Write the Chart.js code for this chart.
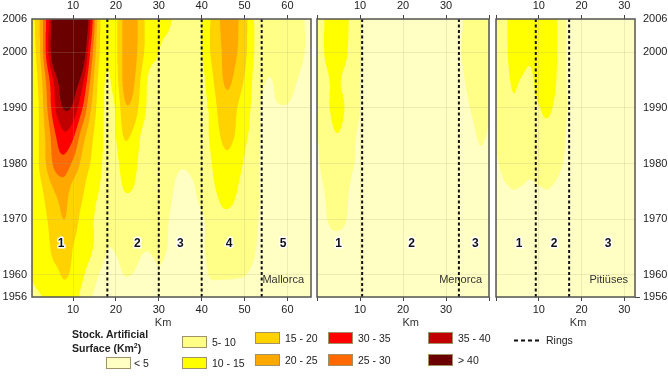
<!DOCTYPE html>
<html>
<head>
<meta charset="utf-8">
<script src="https://cdn.jsdelivr.net/npm/chart.js@4.4.1/dist/chart.umd.min.js"></script>
<style>
  body { margin: 0; background: #fff; font-family: "Liberation Sans", Arial, sans-serif; color: #222; }
  #wrap { position: relative; width: 668px; height: 376px; overflow: hidden; }
  .pane { position: absolute; top: 0; height: 330px; }
  .sw { position: absolute; width: 23px; height: 10px; border: 1px solid #a39268; }
  .lb { position: absolute; font-size: 10.5px; line-height: 12px; white-space: nowrap; }
  .ttl { position: absolute; font-size: 10.5px; font-weight: bold; line-height: 14px; white-space: nowrap; }
  .ttl sup { font-size: 7px; line-height: 0; }
</style>
</head>
<body>
<div id="wrap">
  <div class="pane" style="left:0;width:314px"><canvas id="c-ma" width="314" height="330"></canvas></div>
  <div class="pane" style="left:314px;width:178px"><canvas id="c-me" width="178" height="330"></canvas></div>
  <div class="pane" style="left:492px;width:176px"><canvas id="c-pi" width="176" height="330"></canvas></div>
  <div id="legend"></div>
</div>
<script>
// stock of artificial surface (km2) by distance to coast (km) and year
const stockYears = [1956, 1960, 1965, 1970, 1975, 1980, 1985, 1990, 1995, 2000, 2006];
const yearTicks = [1956, 1960, 1970, 1980, 1990, 2000, 2006];

const mallorcaKm = [0, 2, 4, 6, 8, 10, 12, 14, 16, 18, 20, 22, 24, 26, 28, 30, 32, 34, 36, 38, 40, 42, 44, 46, 48, 50, 52, 54, 56, 58, 60, 62, 64, 66];
const mallorcaStock = [
  [8.5, 9.5, 11, 13, 13.5, 12, 9, 5.5, 4, 4, 4, 4, 4, 3.8, 3.8, 3.8, 3.8, 3.5, 3.5, 3.5, 3.8, 4, 4, 4, 4, 4, 4, 4, 4, 4, 4, 4, 4, 3.5],
  [10, 12, 13, 14, 15.5, 14, 11, 8, 5, 4, 4, 5.1, 4.9, 4, 4, 4.5, 4, 3.5, 3.5, 3.5, 4, 5.2, 5.4, 5.4, 5.3, 5.1, 4.6, 4, 4, 4, 4, 4, 4, 3.5],
  [9.8, 12, 14, 17, 18, 15, 13, 11, 8, 5.2, 5.5, 7, 7, 5.5, 5.3, 6, 5, 3.8, 3.5, 3.5, 4.5, 6, 7.5, 8, 7.5, 6.5, 5.5, 4.2, 4, 4, 4, 4, 4, 3.5],
  [9.8, 12, 15, 18, 20, 17, 14, 11, 9, 8, 7.5, 8.5, 8, 7, 6.5, 6, 5.2, 4, 3.8, 4, 4.5, 6.5, 9, 9.5, 9, 7.5, 6, 4.5, 4, 4, 4, 4, 4, 3.5],
  [9.8, 13, 17, 20.5, 22, 18, 16, 12, 10, 9, 8.5, 10, 9.8, 8, 7, 6.5, 6, 4.6, 4, 4.5, 6.5, 8.5, 10.5, 11, 10.2, 8, 6.5, 4.5, 4, 4, 4, 4, 4, 3.5],
  [10, 15, 21, 27, 28, 24, 19, 15, 11, 9, 9, 12, 11.5, 8.5, 7.5, 7, 6.5, 5.5, 5.3, 6, 7.5, 9.5, 12.5, 13.5, 12, 9.5, 7, 4.5, 4, 4, 4, 4, 4, 3.5],
  [11, 15, 22, 30, 34, 31, 23, 17, 12, 9, 10, 15.5, 14, 9.5, 8, 7.5, 7, 6.5, 6.5, 7, 8, 10.5, 14.5, 16.5, 14.5, 11, 8.5, 4.5, 4, 4, 4, 4, 4, 3.5],
  [11, 15, 25, 35.5, 40.5, 39, 31, 21, 13, 9, 10.5, 19, 18.5, 12.5, 8.5, 8, 7.5, 7, 7, 7.5, 8.5, 10.8, 16, 18, 15.5, 12, 9, 4.6, 4.5, 4.8, 4.8, 4.3, 4, 3.5],
  [11, 16, 27, 38, 46, 44.5, 38, 25, 14, 9.5, 13, 21.5, 21, 14, 8.5, 8.5, 8, 7.5, 7.5, 8, 8.5, 13, 18, 21, 18.5, 14.5, 9.5, 6, 4.8, 6.5, 6.5, 5.2, 4, 3.5],
  [12, 18, 33, 50, 60, 58, 48, 30, 16, 11, 14, 21.5, 22.5, 16.5, 12, 10, 8.5, 8, 8, 8.5, 10, 15, 18.5, 22.5, 20.5, 16.5, 10.5, 8, 7.5, 8, 8, 7, 5, 4],
  [12, 19, 32, 48, 60, 60, 55, 36, 17, 11, 14, 21.5, 23, 17, 12, 11.5, 11, 9, 8, 8.5, 10, 15, 19.5, 23, 21, 17, 10.5, 8, 8, 8, 8, 7, 5, 4.5]
];

const menorcaKm = [0, 2, 4, 6, 8, 10, 12, 14, 16, 18, 20, 22, 24, 26, 28, 30, 32, 34, 36, 38, 40];
const menorcaStock = [
  [4, 4, 4, 4, 4, 4, 4, 4, 4, 4, 4, 4, 4, 4, 4, 4, 4, 4, 4, 4, 4],
  [4, 4, 4, 4, 4, 4, 4, 4, 4, 4, 4, 4, 4, 4, 4, 4, 4, 4, 4, 4, 4],
  [4, 4, 4, 4, 4, 4, 4, 4, 4, 4, 4, 4, 4, 4, 4, 4, 4, 4, 4, 4, 4],
  [4, 4.8, 5.8, 5.5, 4.3, 4, 4, 4, 4, 4, 4, 4, 4, 4, 4, 4, 4, 4, 4, 4, 4],
  [4, 5.2, 7, 6.5, 4.5, 4, 4, 4, 4, 4, 4, 4, 4, 4, 4, 4, 4, 4, 4, 4, 4],
  [4.5, 6.5, 8, 8, 5.5, 4.5, 4, 4, 4, 4, 4, 4, 4, 4, 4, 4, 4, 4, 4, 4.5, 4.2],
  [5, 7.5, 9.7, 9.3, 6, 4.5, 4, 4, 4, 4, 4, 4, 4, 4, 4, 4, 4, 4, 4.5, 5.3, 4.8],
  [7, 9, 10.8, 10.4, 7.5, 5, 4.5, 4, 4, 4, 4, 4, 4, 4, 4, 4, 4, 4.3, 5.2, 6, 5.2],
  [7, 9, 10.8, 9.6, 7.5, 5, 4.5, 4, 4, 4, 4, 4, 4, 4, 4, 4, 4, 4.8, 6, 6.5, 5.5],
  [7, 10.5, 12.5, 11.5, 8.5, 5.2, 4.5, 4, 4, 4, 4, 4, 4, 4, 4, 4, 4.2, 5.2, 6.5, 7, 6],
  [7, 10.5, 13, 12, 9, 5.2, 4.5, 4, 4, 4, 4, 4, 4, 4, 4, 4, 4.2, 5, 6.5, 7, 6]
];

const pitiusesKm = [0, 2, 4, 6, 8, 10, 12, 14, 16, 18, 20, 22, 24, 26, 28, 30, 32, 34];
const pitiusesStock = [
  [4, 4, 4, 4, 4, 4, 4, 4, 4, 4, 4, 4, 4, 4, 4, 4, 4, 4],
  [4, 4, 4, 4, 4, 4, 4, 4, 4, 4, 4, 4, 4, 4, 4, 4, 4, 4],
  [4, 4, 4, 4, 4, 4, 4, 4, 4, 4, 4, 4, 4, 4, 4, 4, 4, 4],
  [4, 4, 4, 4, 4, 4, 4, 4, 4, 4, 4, 4, 4, 4, 4, 4, 4, 4],
  [4, 4.5, 4.9, 4.7, 4.3, 4.6, 4.9, 4.5, 4, 4, 4, 4, 4, 4, 4, 4, 4, 4],
  [4.6, 6, 7, 6.5, 6.2, 7, 7, 6, 4.8, 4, 4, 4, 4, 4, 4, 4, 4, 4],
  [5.5, 7, 7.5, 7.5, 8, 8.5, 8.5, 7.5, 5.2, 4.3, 4, 4, 4, 4, 4, 4, 4, 4],
  [6, 7.5, 9.3, 8.3, 8.8, 9.8, 10.8, 9, 5.5, 4.5, 4, 4, 4, 4, 4, 4, 4, 4],
  [6.5, 8.5, 10.5, 9.8, 9.2, 11.5, 12, 10.2, 5.5, 4.5, 4, 4, 4, 4, 4, 4, 4, 4],
  [7, 9, 11.5, 11.5, 11, 12.5, 12.5, 10.6, 5.5, 4.5, 4, 4, 4, 4, 4, 4, 4, 4],
  [7, 9, 12, 12.5, 12.5, 13, 13, 10.8, 5.5, 4.5, 4, 4, 4, 4, 4, 4, 4, 4]
];

// ring limits (km) and ring label positions (km)
const mallorcaRings = [18, 30, 40, 54];
const menorcaRings = [10.5, 33];
const pitiusesRings = [9.3, 17.1];
const mallorcaRingLabels = [7.2, 25, 35, 46.4, 59];
const menorcaRingLabels = [5, 22, 36.8];
const pitiusesRingLabels = [5.4, 13.6, 26.2];
const ringLabelYear = 1965.5;

const stockBreaks = [5, 10, 15, 20, 25, 30, 35, 40];
const stockColors = ['#FFFFC4', '#FFFF88', '#FFFF00', '#FFD200', '#FFA800', '#FF6A00', '#FF0000', '#C00000', '#6B0000'];
const stockLabels = ['< 5', '5- 10', '10 - 15', '15 - 20', '20 - 25', '25 - 30', '30 - 35', '35 - 40', '> 40'];

const FONT = '"Liberation Sans", Arial, sans-serif';
Chart.defaults.font.family = FONT;
Chart.defaults.font.size = 11;
Chart.defaults.color = '#222';

function hexRgb(h) { return [parseInt(h.slice(1,3),16), parseInt(h.slice(3,5),16), parseInt(h.slice(5,7),16)]; }
const rgbColors = stockColors.map(hexRgb);

function classOf(v) {
  let k = 0;
  while (k < stockBreaks.length && v >= stockBreaks[k]) k++;
  return k;
}

// catmull-rom between p1 and p2
function cr(p0, p1, p2, p3, t) {
  return 0.5 * (2 * p1 + (p2 - p0) * t + (2 * p0 - 5 * p1 + 4 * p2 - p3) * t * t + (3 * p1 - p0 - 3 * p2 + p3) * t * t * t);
}

function sampleGrid(kms, rows, km, yr) {
  const nk = kms.length, ny = stockYears.length;
  const step = kms[1] - kms[0];
  let fx = (km - kms[0]) / step;
  fx = Math.max(0, Math.min(nk - 1.0001, fx));
  const i = Math.floor(fx), tx = fx - i;
  let j = 0;
  while (j < ny - 2 && yr > stockYears[j + 1]) j++;
  let ty = (yr - stockYears[j]) / (stockYears[j + 1] - stockYears[j]);
  ty = Math.max(0, Math.min(1, ty));
  const ci = k => Math.max(0, Math.min(nk - 1, k));
  const cj = k => Math.max(0, Math.min(ny - 1, k));
  const col = [];
  for (let d = -1; d <= 2; d++) {
    const r = rows[cj(j + d)];
    col.push(cr(r[ci(i - 1)], r[i], r[ci(i + 1)], r[ci(i + 2)], tx));
  }
  return cr(col[0], col[1], col[2], col[3], ty);
}

// filled contour bands painted under the grid
const heatPlugin = {
  id: 'heat',
  beforeDraw(chart) {
    const o = chart.options.plugins.heat;
    const { ctx, chartArea: a, scales: { x, y } } = chart;
    const x0 = Math.floor(a.left), y0 = Math.floor(a.top);
    const w = Math.ceil(a.right) - x0, h = Math.ceil(a.bottom) - y0;
    const img = ctx.createImageData(w, h);
    const S = 3;
    const kmAt = [], yrAt = [];
    for (let p = 0; p < w * S; p++) kmAt.push(x.getValueForPixel(x0 + (p + 0.5) / S));
    for (let p = 0; p < h * S; p++) yrAt.push(y.getValueForPixel(y0 + (p + 0.5) / S));
    for (let py = 0; py < h; py++) {
      for (let px = 0; px < w; px++) {
        let r = 0, g = 0, b = 0;
        for (let sy = 0; sy < S; sy++) {
          for (let sx = 0; sx < S; sx++) {
            const c = rgbColors[classOf(sampleGrid(o.km, o.rows, kmAt[px * S + sx], yrAt[py * S + sy]))];
            r += c[0]; g += c[1]; b += c[2];
          }
        }
        const n = S * S, idx = (py * w + px) * 4;
        img.data[idx] = r / n; img.data[idx + 1] = g / n; img.data[idx + 2] = b / n; img.data[idx + 3] = 255;
      }
    }
    ctx.putImageData(img, x0, y0);
  }
};

const labelsPlugin = {
  id: 'islandLabels',
  afterDatasetsDraw(chart) {
    const o = chart.options.plugins.islandLabels;
    const { ctx, chartArea: a, scales: { x, y } } = chart;
    ctx.save();
    ctx.font = 'bold 12px ' + FONT;
    ctx.textAlign = 'center'; ctx.textBaseline = 'middle'; ctx.lineJoin = 'round';
    o.ringLabels.forEach((km, i) => {
      const px = x.getPixelForValue(km), py = y.getPixelForValue(ringLabelYear);
      ctx.strokeStyle = '#fff'; ctx.lineWidth = 3; ctx.strokeText(String(i + 1), px, py);
      ctx.fillStyle = '#111'; ctx.fillText(String(i + 1), px, py);
    });
    ctx.font = '11px ' + FONT;
    ctx.fillStyle = '#333';
    ctx.textAlign = 'right';
    ctx.fillText(o.name, a.right - 7, a.bottom - 17);
    ctx.textAlign = 'center';
    ctx.fillText('Km', x.getPixelForValue(o.kmTitle), 323);
    ctx.restore();
  },
  afterDraw(chart) {
    const { ctx, chartArea: a } = chart;
    ctx.save();
    ctx.strokeStyle = '#555'; ctx.lineWidth = 1.5;
    ctx.strokeRect(a.left, a.top, a.right - a.left, a.bottom - a.top);
    ctx.restore();
  }
};

const faint = 'rgba(170,170,120,0.22)';

function xAxis(pos, min, max, ticks, shown) {
  return {
    type: 'linear', axis: 'x', position: pos, min, max,
    afterBuildTicks: s => { s.ticks = ticks.map(v => ({ value: v })); },
    afterFit: s => { s.height = pos === 'top' ? 19 : 33; },
    ticks: { autoSkip: false, maxRotation: 0, padding: 2, callback: v => shown.includes(v) ? String(v) : '' },
    grid: { color: faint, drawOnChartArea: pos === 'bottom', tickColor: '#444', tickLength: 4, lineWidth: 1 },
    border: { display: false }
  };
}

function yAxis(pos, width, labels) {
  return {
    type: 'linear', axis: 'y', position: pos, min: 1956, max: 2006,
    afterBuildTicks: s => { s.ticks = yearTicks.map(v => ({ value: v })); },
    afterFit: s => { s.width = width; },
    ticks: { display: labels, padding: pos === 'left' ? 5 : 3, callback: v => String(v) },
    grid: {
      color: faint, drawOnChartArea: pos === 'left', drawTicks: pos === 'right', tickLength: 5,
      tickColor: c => (c.tick && c.tick.value === 1956) ? '#444' : 'rgba(0,0,0,0)'
    },
    border: { display: false }
  };
}

function makeIsland(id, cfg) {
  const datasets = cfg.rings.map(r => ({
    type: 'line', data: [{ x: r, y: 1956 }, { x: r, y: 2006 }],
    borderColor: '#111', borderWidth: 2, borderDash: [3, 2.5], pointRadius: 0, showLine: true, fill: false
  }));
  const scales = {
    x: xAxis('bottom', cfg.min, cfg.max, cfg.ticks, cfg.shown),
    xTop: xAxis('top', cfg.min, cfg.max, cfg.ticks, cfg.shown),
    y: yAxis('left', cfg.yWidth, cfg.yLabels)
  };
  if (cfg.rightAxis) scales.yRight = yAxis('right', 33, true);
  new Chart(document.getElementById(id), {
    type: 'scatter',
    data: { datasets },
    options: {
      responsive: false, animation: false, events: [],
      layout: { padding: { left: 0, right: cfg.rightAxis ? 0 : 3, top: 0, bottom: 0 } },
      plugins: {
        legend: { display: false }, tooltip: { enabled: false },
        heat: { km: cfg.km, rows: cfg.rows },
        islandLabels: { ringLabels: cfg.ringLabels, name: cfg.name, kmTitle: cfg.kmTitle }
      },
      scales
    },
    plugins: [heatPlugin, labelsPlugin]
  });
}

makeIsland('c-ma', {
  name: 'Mallorca', km: mallorcaKm, rows: mallorcaStock, rings: mallorcaRings, ringLabels: mallorcaRingLabels,
  min: 0.43, max: 65.5, ticks: [10, 20, 30, 40, 50, 60], shown: [10, 20, 30, 40, 50, 60],
  yWidth: 32, yLabels: true, kmTitle: 31
});
makeIsland('c-me', {
  name: 'Menorca', km: menorcaKm, rows: menorcaStock, rings: menorcaRings, ringLabels: menorcaRingLabels,
  min: 0, max: 40, ticks: [0, 10, 20, 30, 40], shown: [10, 20, 30],
  yWidth: 3, yLabels: false, kmTitle: 21.8
});
makeIsland('c-pi', {
  name: 'Pitiüses', km: pitiusesKm, rows: pitiusesStock, rings: pitiusesRings, ringLabels: pitiusesRingLabels,
  min: 0, max: 32.5, ticks: [0, 10, 20, 30], shown: [10, 20, 30],
  yWidth: 4, yLabels: false, rightAxis: true, kmTitle: 19.2
});

// legend
const legendSlots = [
  [106, 357], [182, 336], [182, 357], [255, 332], [255, 354], [328, 354], [328, 332], [428, 332], [428, 354]
];
let html = '<div class="ttl" style="left:72px;top:327px">Stock. Artificial<br>Surface (Km<sup>2</sup>)</div>';
stockLabels.forEach((lab, i) => {
  const [lx, ly] = legendSlots[i];
  html += `<div class="sw" style="left:${lx}px;top:${ly}px;background:${stockColors[i]}"></div>`;
  html += `<div class="lb" style="left:${lx + (i === 0 ? 28 : 30)}px;top:${ly}px">${lab}</div>`;
});
html += '<svg style="position:absolute;left:514px;top:339px" width="28" height="3"><line x1="0" y1="1.5" x2="28" y2="1.5" stroke="#111" stroke-width="2" stroke-dasharray="4 3"/></svg>';
html += '<div class="lb" style="left:546px;top:334px">Rings</div>';
document.getElementById('legend').innerHTML = html;
</script>
</body>
</html>
